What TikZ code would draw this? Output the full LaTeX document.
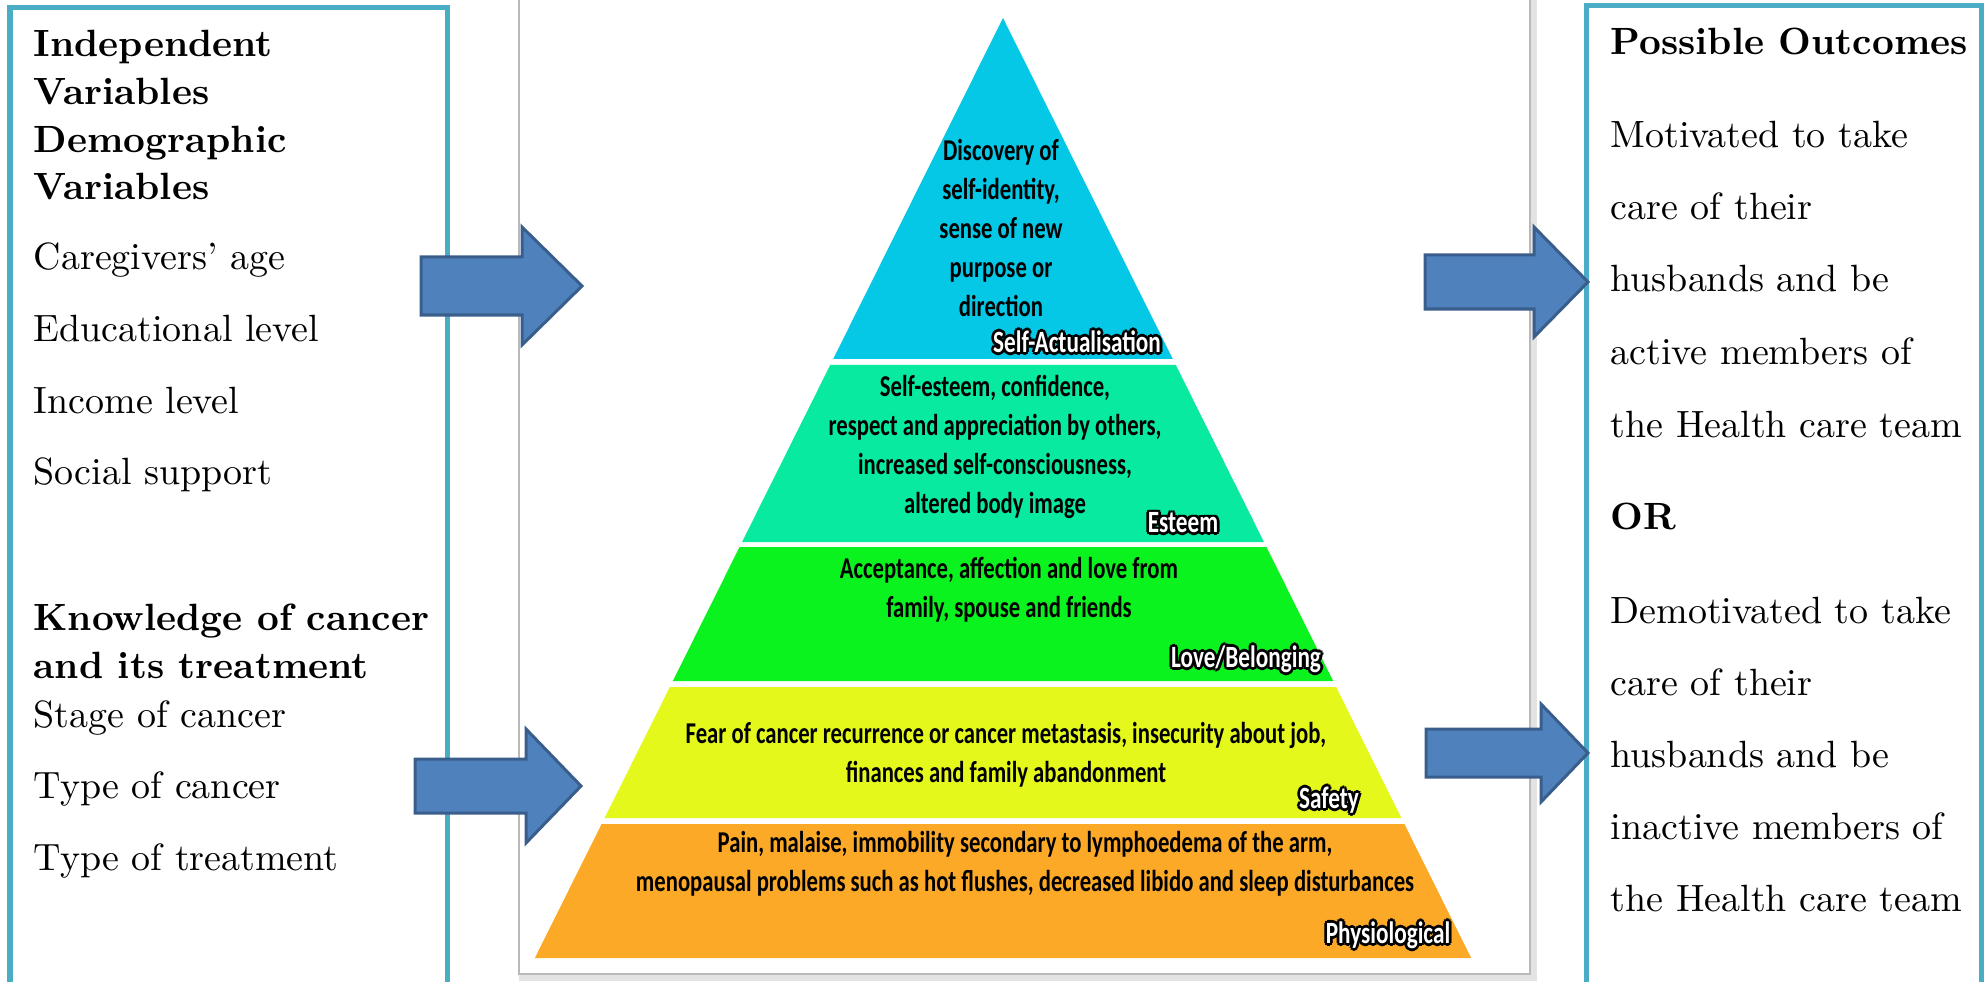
\documentclass[tikz,border=0pt]{standalone}
\usepackage{fontspec}
\usepackage{tikz}
\newfontfamily\pyrfont[FakeStretch=0.75]{Carlito}
\definecolor{boxblue}{HTML}{4BACC6}
\definecolor{arrfill}{HTML}{4F81BD}
\definecolor{arrline}{HTML}{3A5E8C}
\definecolor{lvlA}{HTML}{05C8E6}
\definecolor{lvlB}{HTML}{08EAA0}
\definecolor{lvlC}{HTML}{0AF31F}
\definecolor{lvlD}{HTML}{E5F81C}
\definecolor{lvlE}{HTML}{FBA927}
% white text with a dark rim
\newcommand{\haloat}[3]{\rlap{\hspace*{#1}\raisebox{#2}{\textcolor{black}{#3}}}}
\newcommand{\halo}[1]{\haloat{0.8pt}{0pt}{#1}\haloat{-0.8pt}{0pt}{#1}\haloat{0pt}{0.8pt}{#1}\haloat{0pt}{-0.8pt}{#1}%
  \haloat{0.56pt}{0.56pt}{#1}\haloat{-0.56pt}{0.56pt}{#1}\haloat{0.56pt}{-0.56pt}{#1}\haloat{-0.56pt}{-0.56pt}{#1}\textcolor{white}{#1}}
\tikzset{
  boxline/.style={draw=boxblue, line width=0.05cm},
  boxtxt/.style={anchor=base west, inner sep=0pt, font=\fontsize{10.8}{13}\selectfont},
  boxhead/.style={boxtxt, font=\fontsize{10.8}{13}\selectfont\bfseries},
  blkarrow/.style={fill=arrfill, draw=arrline, line width=0.03cm, line join=miter},
  pyrtxt/.style={align=center, inner sep=0pt, font=\pyrfont\bfseries\fontsize{8.6}{11.1}\selectfont},
  lvllbl/.style={inner sep=0pt, font=\pyrfont\bfseries\fontsize{8.8}{10}\selectfont},
}
\begin{document}
\begin{tikzpicture}[x=0.01cm, y=-0.01cm] %Início
	\useasboundingbox (0,0) rectangle (1984,982);
	\clip (0,0) rectangle (1984,982);
		%Caixas laterais
	\draw[boxline] (10,8) rectangle (447,995); %Caixa esquerda
	\draw[boxline] (1586,6) rectangle (1981,995); %Caixa direita
		%Moldura da pirâmide
	\draw[gray!22, line width=0.07cm] (522,-20) rectangle (1533,977);
	\draw[gray!55, fill=white, line width=0.025cm] (519,-20) rectangle (1530,974);
		%Camadas
	\foreach \ya/\yb/\col in {18/359/lvlA,365/542/lvlB,547/681/lvlC,687/818/lvlD,824/958/lvlE}
		\fill[\col] ({1003-0.498*(\ya-18)},\ya) -- ({1003+0.498*(\ya-18)},\ya) -- ({1003+0.498*(\yb-18)},\yb) -- ({1003-0.498*(\yb-18)},\yb) -- cycle;
		%Textos da pirâmide
	\node[pyrtxt] (pyr1) at (1001,228) {Discovery of\\self-identity,\\sense of new\\purpose or\\direction};
	\node[pyrtxt] (pyr2) at (995,447) {Self-esteem, confidence,\\respect and appreciation by others,\\increased self-consciousness,\\altered body image};
	\node[pyrtxt] (pyr3) at (1009,590) {Acceptance, affection and love from\\family, spouse and friends};
	\node[pyrtxt] (pyr4) at (1006,755) {Fear of cancer recurrence or cancer metastasis, insecurity about job,\\finances and family abandonment};
	\node[pyrtxt] (pyr5) at (1025,864) {Pain, malaise, immobility secondary to lymphoedema of the arm,\\menopausal problems such as hot flushes, decreased libido and sleep disturbances};
	\node[lvllbl] (lbl1) at (1077,342) {\halo{Self-Actualisation}};
	\node[lvllbl] (lbl2) at (1183,523) {\halo{Esteem}};
	\node[lvllbl] (lbl3) at (1246,659) {\halo{Love/Belonging}};
	\node[lvllbl] (lbl4) at (1329,800) {\halo{Safety}};
	\node[lvllbl] (lbl5) at (1388,935) {\halo{Physiological}};
		%Texto esquerdo
	\node[boxhead] (iv1) at (33,57) {Independent};
	\node[boxhead] (iv2) at (33,105) {Variables};
	\node[boxhead] (iv3) at (33,153) {Demographic};
	\node[boxhead] (iv4) at (33,200) {Variables};
	\node[boxtxt] (dv1) at (33,270) {Caregivers’ age};
	\node[boxtxt] (dv2) at (33,342) {Educational level};
	\node[boxtxt] (dv3) at (33,413) {Income level};
	\node[boxtxt] (dv4) at (33,485) {Social support};
	\node[boxhead] (kn1) at (33,630) {Knowledge of cancer};
	\node[boxhead] (kn2) at (33,678) {and its treatment};
	\node[boxtxt] (kv1) at (33,727) {Stage of cancer};
	\node[boxtxt] (kv2) at (33,798) {Type of cancer};
	\node[boxtxt] (kv3) at (33,870) {Type of treatment};
		%Texto direito
	\node[boxhead] (po) at (1610,55) {Possible Outcomes};
	\foreach \yy/\txt [count=\i] in {148/Motivated to take,220/care of their,292/husbands and be,365/active members of,437/the Health care team}
		\node[boxtxt] (mo\i) at (1610,\yy) {\txt};
	\node[boxhead] (orw) at (1610,529) {OR};
	\foreach \yy/\txt [count=\i] in {623/Demotivated to take,695/care of their,767/husbands and be,839/inactive members of,911/the Health care team}
		\node[boxtxt] (dm\i) at (1610,\yy) {\txt};
		%Setas
	\foreach \xa/\xb/\xc/\yc/\bw/\hw in {421/522/582/286/29/59,415/526/581/786/27/57,1425/1534/1588/282/27/55,1426/1541/1588/753/24/49}
		\draw[blkarrow] (\xa,\yc-\bw) -- (\xb,\yc-\bw) -- (\xb,\yc-\hw) -- (\xc,\yc) -- (\xb,\yc+\hw) -- (\xb,\yc+\bw) -- (\xa,\yc+\bw) -- cycle;
\end{tikzpicture}
\end{document}
